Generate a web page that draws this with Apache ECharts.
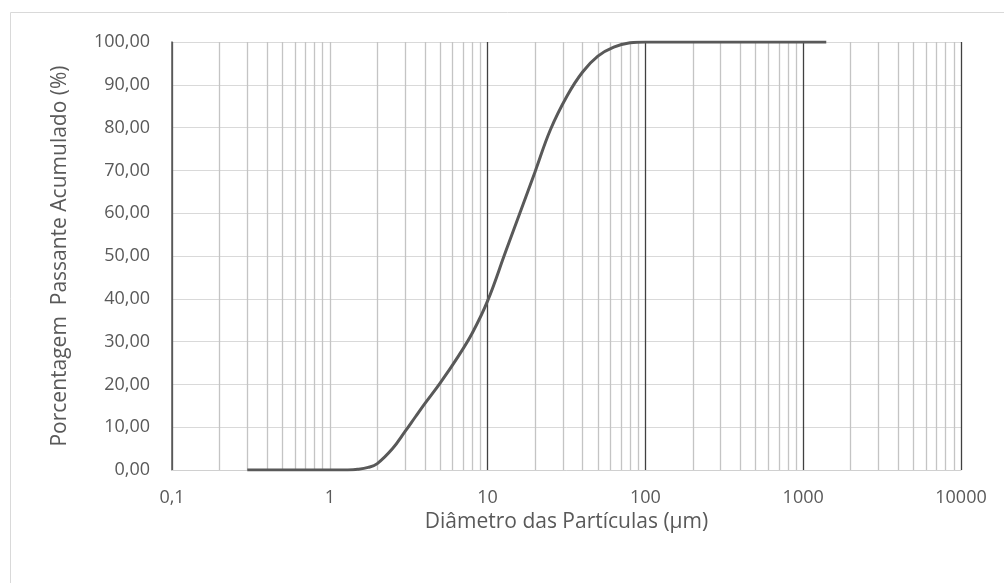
<!DOCTYPE html>
<html>
<head>
<meta charset="utf-8">
<script src="https://cdn.jsdelivr.net/npm/echarts@6/dist/echarts.min.js"></script>
<style>
  html, body { margin: 0; padding: 0; background: #fff; }
  #chart { width: 1004px; height: 583px; }
</style>
</head>
<body>
<div id="chart"></div>
<script>
// diâmetro (µm) e % passante acumulado
var diametros = [0.3, 0.5, 1, 1.3, 1.5, 1.75, 2, 2.5, 3, 3.5, 4, 5, 6.5, 8, 10, 13, 16, 20, 25, 32, 40, 50, 63, 80, 100, 200, 500, 1000, 1400];
var passante  = [0, 0, 0, 0.02, 0.15, 0.6, 1.5, 5.0, 9, 12.5, 15.5, 20.3, 26.5, 32, 39.5, 51, 60, 69.7, 79.5, 87.5, 93, 96.7, 98.8, 99.8, 100, 100, 100, 100, 100];
var decadas = [0.1, 1, 10, 100, 1000, 10000];
var multiplicadores = [2, 3, 4, 5, 6, 7, 8, 9];

var pontos = [];
for (var i = 0; i < diametros.length; i++) {
  pontos.push([diametros[i], passante[i]]);
}

// linhas de grade secundárias do eixo log (2..9 de cada década)
var grade = [];
for (var d = 0; d < decadas.length - 1; d++) {
  for (var m = 0; m < multiplicadores.length; m++) {
    grade.push({ xAxis: +(decadas[d] * multiplicadores[m]).toPrecision(3) });
  }
}

var fonte = 'Open Sans';
var chart = echarts.init(document.getElementById('chart'));
chart.setOption({
  animation: false,
  graphic: [{
    type: 'rect',
    shape: { x: 10.5, y: 12.5, width: 1010, height: 600 },
    style: { fill: 'none', stroke: '#d9d9d9', lineWidth: 1 }
  }],
  grid: { left: 172, right: 43, top: 42, bottom: 113 },
  xAxis: {
    type: 'log',
    logBase: 10,
    min: 0.1,
    max: 10000,
    name: 'Diâmetro das Partículas (µm)',
    nameLocation: 'middle',
    nameGap: 40,
    nameTextStyle: { color: '#595959', fontFamily: fonte, fontSize: 21 },
    axisLine: { show: true, onZero: false, lineStyle: { color: '#d0d0d0', width: 1 } },
    axisTick: { show: false },
    axisLabel: {
      color: '#595959', fontFamily: fonte, fontSize: 18, margin: 19,
      formatter: function (v) { return String(v).replace('.', ','); }
    },
    splitLine: {
      show: true,
      lineStyle: { color: ['#595959', '#c4c4c4', '#404040', '#404040', '#404040', '#404040'], width: 1.3 }
    }
  },
  yAxis: {
    type: 'value',
    min: 0,
    max: 100,
    interval: 10,
    name: 'Porcentagem  Passante Acumulado (%)',
    nameLocation: 'middle',
    nameGap: 101,
    nameTextStyle: { color: '#595959', fontFamily: fonte, fontSize: 21 },
    axisLine: { show: true, lineStyle: { color: '#595959', width: 1.5 } },
    axisTick: { show: false },
    axisLabel: {
      color: '#595959', fontFamily: fonte, fontSize: 18, margin: 22,
      formatter: function (v) { return v.toFixed(2).replace('.', ','); }
    },
    splitLine: { show: true, lineStyle: { color: '#d9d9d9', width: 1 } }
  },
  series: [{
    type: 'line',
    data: pontos,
    smooth: 0.4,
    showSymbol: false,
    lineStyle: { color: '#595959', width: 3 },
    z: 5,
    markLine: {
      silent: true,
      symbol: ['none', 'none'],
      label: { show: false },
      lineStyle: { color: '#c4c4c4', width: 1.3, type: 'solid' },
      data: grade,
      z: 1
    }
  }]
});
</script>
</body>
</html>
